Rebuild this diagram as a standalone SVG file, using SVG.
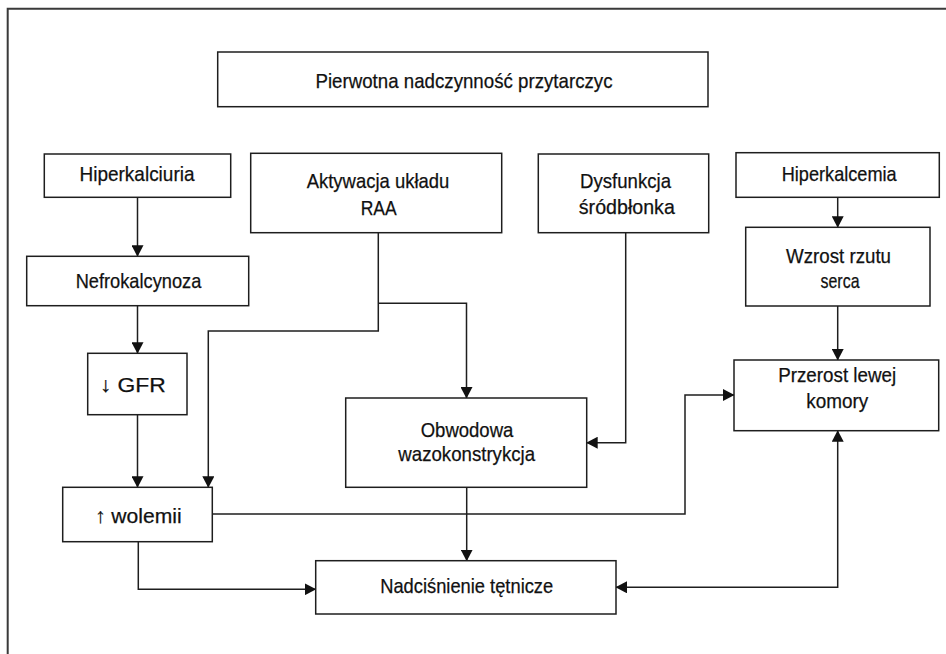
<svg xmlns="http://www.w3.org/2000/svg" width="946" height="654" viewBox="0 0 946 654">
<style>
.frame{fill:none;stroke:#3a3a3a;stroke-width:2}
.box rect{fill:#fff;stroke:#1e1e1e;stroke-width:1.5}
.box text{font-family:"Liberation Sans",Arial,sans-serif;font-size:21px;fill:#111;stroke:#111;stroke-width:0.25;text-anchor:middle}
.conn path{fill:none;stroke:#1e1e1e;stroke-width:1.5}
</style>
<defs>
<marker id="ah" markerUnits="userSpaceOnUse" markerWidth="12" markerHeight="12" refX="11" refY="6" orient="auto-start-reverse" viewBox="0 0 12 12">
<path d="M0,0 L11.5,6 L0,12 Z" fill="#111"/>
</marker>
</defs>
<rect width="946" height="654" fill="#fff"/>
<path class="frame" d="M946,8.7 H7.7 V654"/>

<g class="conn">
<path d="M137.5,197.3 V256.3" marker-end="url(#ah)"/>
<path d="M137.5,305.7 V353.3" marker-end="url(#ah)"/>
<path d="M137.5,414.7 V487.3" marker-end="url(#ah)"/>
<path d="M378.3,232.7 V331 H208.3 V487.3" marker-end="url(#ah)"/>
<path d="M378.3,303.3 H466.5 V398" marker-end="url(#ah)"/>
<path d="M625.7,232.7 V442.7 H586.7" marker-end="url(#ah)"/>
<path d="M212.3,514 H685 V395 H734" marker-end="url(#ah)"/>
<path d="M138.3,541.7 V589.3 H315.7" marker-end="url(#ah)"/>
<path d="M466.7,487.3 V560.7" marker-end="url(#ah)"/>
<path d="M837.7,197.3 V227.3" marker-end="url(#ah)"/>
<path d="M837.7,306 V360" marker-end="url(#ah)"/>
<path d="M837.7,430.7 V587.3 H616" marker-start="url(#ah)" marker-end="url(#ah)"/>
</g>

<g id="pierwotna" class="box">
<rect x="217.7" y="52" width="490.3" height="54.7"/>
<text x="464" y="87.5" textLength="297" lengthAdjust="spacingAndGlyphs">Pierwotna nadczynność przytarczyc</text>
</g>
<g id="hiperkalciuria" class="box">
<rect x="44.3" y="154" width="186.4" height="43.3"/>
<text x="137" y="180.5" textLength="115" lengthAdjust="spacingAndGlyphs">Hiperkalciuria</text>
</g>
<g id="raa" class="box">
<rect x="250.7" y="153.3" width="251" height="79.4"/>
<text x="378" y="188.3" textLength="142.6" lengthAdjust="spacingAndGlyphs">Aktywacja układu</text>
<text x="378.7" y="215" textLength="36" lengthAdjust="spacingAndGlyphs">RAA</text>
</g>
<g id="dysfunkcja" class="box">
<rect x="538.3" y="154" width="170.4" height="78.7"/>
<text x="625.5" y="188" textLength="91" lengthAdjust="spacingAndGlyphs">Dysfunkcja</text>
<text x="626.8" y="214" textLength="96" lengthAdjust="spacingAndGlyphs">śródbłonka</text>
</g>
<g id="hiperkalcemia" class="box">
<rect x="736" y="152.7" width="203.3" height="44.6"/>
<text x="839.2" y="180.7" textLength="115" lengthAdjust="spacingAndGlyphs">Hiperkalcemia</text>
</g>
<g id="wzrost" class="box">
<rect x="745.7" y="227.3" width="184.3" height="78.7"/>
<text x="838.5" y="263.3" textLength="105" lengthAdjust="spacingAndGlyphs">Wzrost rzutu</text>
<text x="840" y="288.3" textLength="39" lengthAdjust="spacingAndGlyphs">serca</text>
</g>
<g id="nefrokalcynoza" class="box">
<rect x="26.7" y="256.3" width="222" height="49.4"/>
<text x="138.5" y="288.3" textLength="125.6" lengthAdjust="spacingAndGlyphs">Nefrokalcynoza</text>
</g>
<g id="gfr" class="box">
<rect x="87.7" y="353.3" width="99.3" height="61.4"/>
<text x="132.8" y="392" textLength="66" lengthAdjust="spacingAndGlyphs">↓ GFR</text>
</g>
<g id="przerost" class="box">
<rect x="734" y="360" width="204.7" height="70.7"/>
<text x="837.2" y="381.7" textLength="118" lengthAdjust="spacingAndGlyphs">Przerost lewej</text>
<text x="837.2" y="408" textLength="62" lengthAdjust="spacingAndGlyphs">komory</text>
</g>
<g id="obwodowa" class="box">
<rect x="345.7" y="398" width="241" height="89.3"/>
<text x="467" y="436.5" textLength="92.6" lengthAdjust="spacingAndGlyphs">Obwodowa</text>
<text x="466.7" y="461" textLength="136.7" lengthAdjust="spacingAndGlyphs">wazokonstrykcja</text>
</g>
<g id="wolemii" class="box">
<rect x="62.7" y="487.3" width="149.6" height="54.4"/>
<text x="138.3" y="522.5" textLength="86.7" lengthAdjust="spacingAndGlyphs">↑ wolemii</text>
</g>
<g id="nadcisnienie" class="box">
<rect x="315.7" y="560.7" width="300.3" height="53.3"/>
<text x="466.7" y="593" textLength="173" lengthAdjust="spacingAndGlyphs">Nadciśnienie tętnicze</text>
</g>
</svg>
